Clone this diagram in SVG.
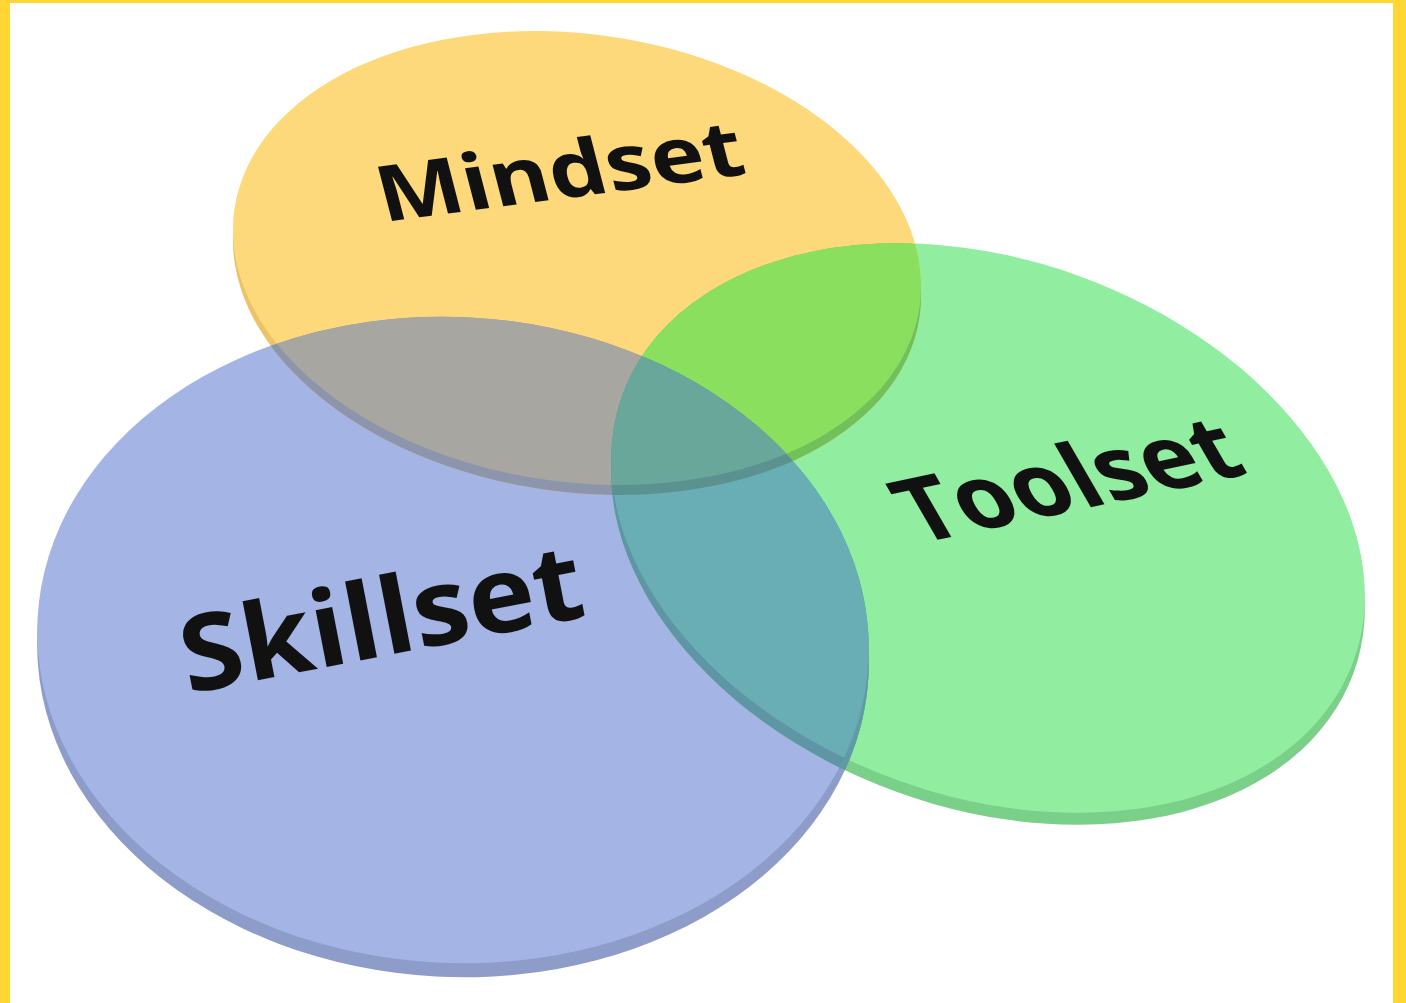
<svg xmlns="http://www.w3.org/2000/svg" xmlns:xlink="http://www.w3.org/1999/xlink" width="1406" height="1003" viewBox="0 0 1406 1003">
<style>
.lbl{font-family:"Open Sans","Liberation Sans",sans-serif;font-weight:700;fill:#111111;}
</style>
<defs>
<ellipse id="eY" cx="0" cy="0" rx="346" ry="224"/>
<ellipse id="eB" cx="0" cy="0" rx="416" ry="323"/>
<ellipse id="eG" cx="0" cy="0" rx="389" ry="268"/>
<clipPath id="cY"><use xlink:href="#eY" transform="translate(577,258) rotate(8)"/><use xlink:href="#eY" transform="translate(577,268) rotate(8)"/></clipPath>
<clipPath id="cB"><use xlink:href="#eB" transform="translate(453,640) rotate(3)"/><use xlink:href="#eB" transform="translate(453,654) rotate(3)"/></clipPath>
<clipPath id="cG"><use xlink:href="#eG" transform="translate(988,528) rotate(20)"/><use xlink:href="#eG" transform="translate(988,540) rotate(20)"/></clipPath>
<mask id="mBrim" maskUnits="userSpaceOnUse" x="0" y="0" width="1406" height="1003">
<use xlink:href="#eB" transform="translate(453,654) rotate(3)" fill="#fff"/>
<use xlink:href="#eB" transform="translate(453,640) rotate(3)" fill="#000"/>
</mask>
</defs>
<rect x="0" y="0" width="1406" height="1003" fill="#ffffff"/>
<g id="frame" fill="#FFD633">
<rect x="0" y="0" width="10" height="1003"/>
<rect x="0" y="0" width="1406" height="3"/>
<rect x="1393" y="0" width="13" height="1003"/>
</g>
<g id="node-skillset">
<use xlink:href="#eB" transform="translate(453,654) rotate(3)" fill="#8D9CC8"/>
<use xlink:href="#eB" transform="translate(453,640) rotate(3)" fill="#A4B5E5"/>
<text class="lbl" transform="translate(188,694) rotate(-11)" font-size="106" textLength="408" lengthAdjust="spacingAndGlyphs">Skillset</text>
</g>
<g id="node-toolset">
<use xlink:href="#eG" transform="translate(988,540) rotate(20)" fill="#7ACF89"/>
<use xlink:href="#eG" transform="translate(988,528) rotate(20)" fill="#91EEA0"/>
<text class="lbl" transform="translate(918,544) rotate(-12) skewX(18)" font-size="92" textLength="340" lengthAdjust="spacingAndGlyphs">Toolset</text>
</g>
<g id="node-mindset">
<use xlink:href="#eY" transform="translate(577,268) rotate(8)" fill="#EBC36B"/>
<use xlink:href="#eY" transform="translate(577,258) rotate(8)" fill="#FDD97C"/>
<text class="lbl" transform="translate(384,222) rotate(-7.5) skewX(7)" font-size="78" textLength="368" lengthAdjust="spacingAndGlyphs">Mindset</text>
</g>
<g id="overlaps">
<g clip-path="url(#cB)">
<use xlink:href="#eY" transform="translate(577,268) rotate(8)" fill="#8D95AC"/>
<use xlink:href="#eY" transform="translate(577,258) rotate(8)" fill="#A7A6A0"/>
</g>
<g clip-path="url(#cG)">
<use xlink:href="#eY" transform="translate(577,268) rotate(8)" fill="#72C05A"/>
<use xlink:href="#eY" transform="translate(577,258) rotate(8)" fill="#8BDF5E"/>
</g>
<g clip-path="url(#cB)">
<use xlink:href="#eG" transform="translate(988,540) rotate(20)" fill="#5E96A6"/>
<use xlink:href="#eG" transform="translate(988,528) rotate(20)" fill="#69ADB5"/>
</g>
<g clip-path="url(#cG)" mask="url(#mBrim)">
<rect x="0" y="0" width="1406" height="1003" fill="#619AA6"/>
</g>
<g clip-path="url(#cB)">
<g clip-path="url(#cG)">
<use xlink:href="#eY" transform="translate(577,268) rotate(8)" fill="#5B9290"/>
<use xlink:href="#eY" transform="translate(577,258) rotate(8)" fill="#69A79B"/>
</g>
</g>
</g>
</svg>
